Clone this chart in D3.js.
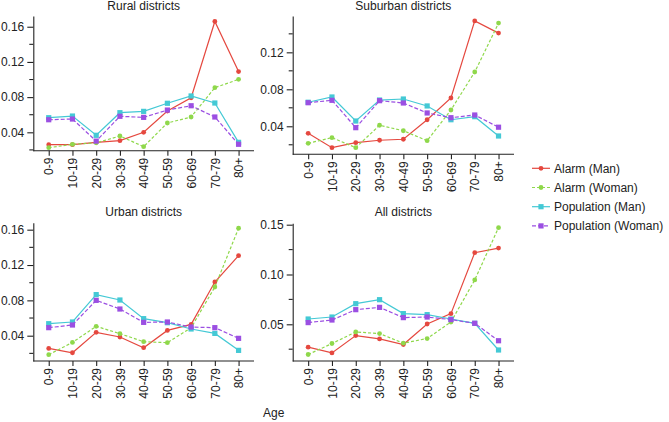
<!DOCTYPE html>
<html>
<head>
<meta charset="utf-8">
<script src="https://cdn.jsdelivr.net/npm/d3@7"></script>
<style>
  html, body { margin: 0; padding: 0; background: #fff; }
  svg { display: block; font-family: Arial, "Liberation Sans", Helvetica, sans-serif; }
</style>
</head>
<body>
<svg id="chart" width="669" height="422"></svg>
<script>
// ---- Data ----
const ageGroups = ["0-9", "10-19", "20-29", "30-39", "40-49", "50-59", "60-69", "70-79", "80+"];
const seriesNames = ["Alarm (Man)", "Alarm (Woman)", "Population (Man)", "Population (Woman)"];

const ruralAlarmMan   = [0.026, 0.026, 0.0286, 0.0305, 0.040, 0.0642, 0.0793, 0.166, 0.109];
const ruralAlarmWoman = [0.0225, 0.0264, 0.028, 0.0358, 0.0237, 0.0506, 0.0574, 0.0907, 0.1002];
const ruralPopMan     = [0.0566, 0.0585, 0.0366, 0.0623, 0.0638, 0.073, 0.0813, 0.0733, 0.0286];
const ruralPopWoman   = [0.0543, 0.0551, 0.030, 0.0582, 0.057, 0.0653, 0.0702, 0.0574, 0.0264];

const suburbanAlarmMan   = [0.0324, 0.0169, 0.0223, 0.0249, 0.026, 0.0471, 0.0706, 0.154, 0.1408];
const suburbanAlarmWoman = [0.0216, 0.0277, 0.0169, 0.0411, 0.0352, 0.0244, 0.0576, 0.0987, 0.1516];
const suburbanPopMan     = [0.066, 0.0717, 0.0457, 0.0684, 0.0695, 0.062, 0.0471, 0.0504, 0.0295];
const suburbanPopWoman   = [0.0655, 0.0681, 0.0385, 0.0677, 0.0652, 0.0544, 0.0493, 0.0522, 0.039];

const urbanAlarmMan   = [0.0256, 0.0207, 0.0438, 0.0385, 0.0264, 0.046, 0.0528, 0.1008, 0.1306];
const urbanAlarmWoman = [0.0185, 0.0324, 0.0506, 0.0423, 0.0332, 0.0321, 0.049, 0.0951, 0.1616];
const urbanPopMan     = [0.0536, 0.0555, 0.0865, 0.0804, 0.0593, 0.0547, 0.0476, 0.0426, 0.0234];
const urbanPopWoman   = [0.0491, 0.0521, 0.080, 0.0702, 0.0551, 0.0555, 0.0498, 0.0491, 0.037];

const allAlarmMan   = [0.027, 0.0213, 0.0387, 0.0353, 0.0297, 0.0503, 0.0607, 0.1219, 0.1265];
const allAlarmWoman = [0.0197, 0.0307, 0.0423, 0.0407, 0.031, 0.0357, 0.0523, 0.0945, 0.147];
const allPopMan     = [0.0553, 0.0573, 0.0707, 0.0747, 0.0607, 0.0597, 0.0553, 0.051, 0.0242];
const allPopWoman   = [0.0517, 0.0543, 0.0647, 0.067, 0.0567, 0.0573, 0.0547, 0.051, 0.0335];

const titles = ["Rural districts", "Suburban districts", "Urban districts", "All districts"];
const rates = [
  [ruralAlarmMan, ruralAlarmWoman, ruralPopMan, ruralPopWoman],
  [suburbanAlarmMan, suburbanAlarmWoman, suburbanPopMan, suburbanPopWoman],
  [urbanAlarmMan, urbanAlarmWoman, urbanPopMan, urbanPopWoman],
  [allAlarmMan, allAlarmWoman, allPopMan, allPopWoman]
];
const majorTicks = [
  [0.04, 0.08, 0.12, 0.16],
  [0.04, 0.08, 0.12],
  [0.04, 0.08, 0.12, 0.16],
  [0.05, 0.10, 0.15]
];
const tickFormats = [".2f", ".2f", ".2f", ".2f"];

// ---- Layout / style ----
const panels = [
  { left: 33.3, right: 254, top: 16, bottom: 150.7, domain: [0.0191, 0.1722], minorStep: 0.02, titleY: 9.5 },
  { left: 292.7, right: 514, top: 16, bottom: 154.3, domain: [0.0097, 0.1593], minorStep: 0.02, titleY: 9.5 },
  { left: 33.3, right: 254, top: 222.7, bottom: 361, domain: [0.01136, 0.1679], minorStep: 0.02, titleY: 216 },
  { left: 292.7, right: 514, top: 223.3, bottom: 361, domain: [0.01315, 0.1514], minorStep: 0.025, titleY: 216 }
];
const colors = ["#E5483F", "#8FD84B", "#44C9D5", "#9B4FE2"];
const dashes = [null, "3,2", null, "4,2"];
const shapes = ["circle", "circle", "square", "square"];

const svg = d3.select("#chart");
const FS = 12;

function drawMarker(g, shape, x, y, color) {
  if (shape === "circle") {
    g.append("circle").attr("cx", x).attr("cy", y).attr("r", 2.4).attr("fill", color);
  } else {
    g.append("rect").attr("x", x - 2.6).attr("y", y - 2.6).attr("width", 5.2).attr("height", 5.2).attr("fill", color);
  }
}

panels.forEach((p, i) => {
  const g = svg.append("g");
  const x = d3.scalePoint().domain(ageGroups).range([p.left, p.right]).padding(0.65);
  const y = d3.scaleLinear().domain(p.domain).range([p.bottom, p.top]);

  // y axis
  const yAxis = d3.axisLeft(y).tickValues(majorTicks[i]).tickFormat(d3.format(tickFormats[i]))
    .tickSize(6).tickPadding(3).tickSizeOuter(0);
  const ya = g.append("g").attr("transform", `translate(${p.left},0)`).call(yAxis);
  ya.selectAll("text").attr("font-size", FS).attr("fill", "#222").attr("font-family", null);
  ya.selectAll("line, path").attr("stroke", "#222").attr("stroke-width", 1.1);

  // minor ticks
  const minors = d3.range(p.minorStep, p.domain[1], p.minorStep)
    .filter(v => v >= p.domain[0] && !majorTicks[i].some(m => Math.abs(m - v) < 1e-6));
  g.selectAll(".minor").data(minors).join("line")
    .attr("x1", p.left - 4).attr("x2", p.left)
    .attr("y1", d => y(d)).attr("y2", d => y(d))
    .attr("stroke", "#222").attr("stroke-width", 1.1);

  // x axis
  const xAxis = d3.axisBottom(x).tickSize(5).tickPadding(1).tickSizeOuter(0);
  const xa = g.append("g").attr("transform", `translate(0,${p.bottom})`).call(xAxis);
  xa.select("path.domain").attr("d", `M${p.left},0H${p.right}`);
  xa.selectAll("line, path").attr("stroke", "#222").attr("stroke-width", 1.1);
  xa.selectAll("text")
    .attr("font-size", FS).attr("fill", "#222").attr("font-family", null)
    .attr("text-anchor", "end")
    .attr("transform", "rotate(-90)")
    .attr("x", -7).attr("y", 0).attr("dy", "0.35em");

  // title
  g.append("text").attr("x", (p.left + p.right) / 2).attr("y", p.titleY)
    .attr("text-anchor", "middle").attr("font-size", FS).attr("fill", "#222")
    .text(titles[i]);

  // series
  rates[i].forEach((vals, s) => {
    const line = d3.line().x((d, k) => x(ageGroups[k])).y(d => y(d));
    g.append("path").datum(vals).attr("d", line)
      .attr("fill", "none").attr("stroke", colors[s]).attr("stroke-width", 1.2)
      .attr("stroke-dasharray", dashes[s]);
    const mg = g.append("g");
    vals.forEach((v, k) => drawMarker(mg, shapes[s], x(ageGroups[k]), y(v), colors[s]));
  });
});

// axis title
svg.append("text").attr("x", 263).attr("y", 417).attr("font-size", FS).attr("fill", "#222").text("Age");

// legend
const leg = svg.append("g");
seriesNames.forEach((name, s) => {
  const ly = 168.3 + s * 19.2;
  leg.append("line").attr("x1", 532).attr("x2", 550).attr("y1", ly).attr("y2", ly)
    .attr("stroke", colors[s]).attr("stroke-width", 1.2).attr("stroke-dasharray", dashes[s]);
  drawMarker(leg, shapes[s], 541, ly, colors[s]);
  leg.append("text").attr("x", 554).attr("y", ly).attr("dy", "0.35em")
    .attr("font-size", FS).attr("fill", "#222").text(name);
});
</script>
</body>
</html>
